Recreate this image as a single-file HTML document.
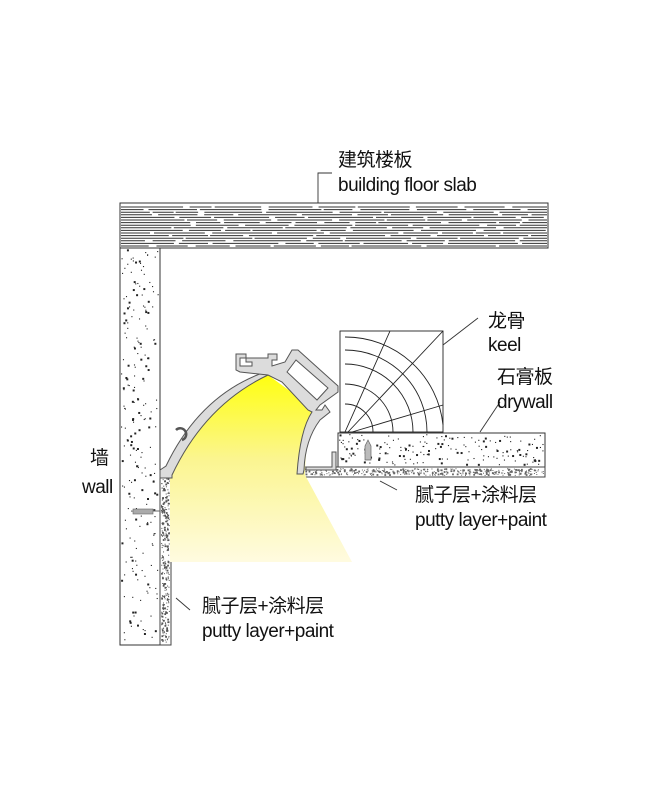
<!DOCTYPE html>
<html><head><meta charset="utf-8"><style>
html,body{margin:0;padding:0;background:#fff;}
svg{display:block}
text{font-family:"Liberation Sans","Noto Sans CJK SC",sans-serif;fill:#111;letter-spacing:-0.5px}
</style></head><body>
<svg id="s" width="650" height="800" viewBox="0 0 650 800" xmlns="http://www.w3.org/2000/svg">
<defs>
<linearGradient id="g" x1="0" y1="0" x2="0" y2="1">
<stop offset="0" stop-color="#ffff10"/><stop offset="0.45" stop-color="#fbf590"/><stop offset="1" stop-color="#fffbe0"/>
</linearGradient>
</defs>
<rect x="120" y="203" width="428" height="45" fill="#fff" stroke="#333" stroke-width="1"/>
<g id="slab" stroke="#333" stroke-width="1"></g>
<rect x="120" y="248" width="40" height="397" fill="#fff" stroke="#333"/>
<g id="wallDots" fill="#222"></g>
<rect x="160" y="477" width="11" height="168" fill="#fff" stroke="#444"/>
<g id="puttyDots" fill="#555"></g>
<rect x="133" y="509" width="20" height="5" fill="#aaa" stroke="#666" stroke-width="0.6"/>
<line x1="153" y1="511" x2="160" y2="511" stroke="#666"/>
<rect x="338" y="433" width="207" height="34" fill="#fff" stroke="#333"/>
<g id="dryDots" fill="#222"></g>
<rect x="303" y="467" width="242" height="10" fill="#fff" stroke="#444"/>
<g id="ceilPutty" fill="#666"></g>
<path d="M365 460 L365 446 L368 440 L371 446 L371 460 Z" fill="#bbb" stroke="#666" stroke-width="0.7"/>
<g stroke="#222" stroke-width="0.9" fill="none">
<rect x="340" y="331" width="103" height="101"/>
<path d="M345 404 A28 28 0 0 1 373 432 M345 384 A48 48 0 0 1 393 432 M345 364 A68 68 0 0 1 413 432 M345 350 A82 82 0 0 1 427 432 M345 337 A98 98 0 0 1 443 425"/>
<line x1="348" y1="432" x2="443" y2="331"/>
<line x1="345" y1="432" x2="390" y2="331"/>
<line x1="352" y1="432" x2="443" y2="405"/>
</g>
<path d="M268 375 Q200 410 170 475 L170 562 L352 562 L305 475 Q305 440 316 410 Z" fill="url(#g)"/>
<g fill="#dcdcdc" stroke="#555" stroke-width="1">
<path d="M160 470 L166 466 Q200 395 265 372 L268 375 Q205 405 172 475 L172 478 L160 478 Z"/>
<path d="M236 354 L246 354 L246 358 L240 358 L240 366 L252 366 L252 362 L246 362 L246 358 L268 358 L268 354 L277 354 L277 360 L272 360 L272 366 L285 362 L292 350 L298 350 L338 386 L338 392 L320 405 L316 410 L322 410 L325 405 L330 412 L320 420 Q305 440 304 470 L303 474 L297 474 Q300 430 312 412 L308 410 L282 382 L268 375 L240 372 L236 370 Z"/>
<path d="M287 372 L296 360 L328 388 L317 400 Z" fill="#fff"/>
<path d="M306 467 L332 467 L332 452 L336 452 L336 470 L306 470 Z"/>
</g>
<g fill="none" stroke="#555" stroke-width="2.5"><path d="M182 440 A6 6 0 1 0 176 430"/></g>
<g stroke="#333" stroke-width="0.9" fill="none">
<polyline points="318,203 318,173 332,173"/>
<line x1="443" y1="345" x2="478" y2="318"/>
<line x1="480" y1="432" x2="500" y2="402"/>
<line x1="380" y1="481" x2="397" y2="490"/>
<line x1="176" y1="598" x2="190" y2="610"/>
</g>
<g font-size="19">
<text x="338" y="166">建筑楼板</text>
<text x="338" y="191">building floor slab</text>
<text x="488" y="327">龙骨</text>
<text x="488" y="351">keel</text>
<text x="497" y="383">石膏板</text>
<text x="497" y="408">drywall</text>
<text x="90" y="464">墙</text>
<text x="82" y="493">wall</text>
<text x="415" y="501">腻子层+涂料层</text>
<text x="415" y="526">putty layer+paint</text>
<text x="202" y="612">腻子层+涂料层</text>
<text x="202" y="637">putty layer+paint</text>
</g>
</svg>
<script>
var ns="http://www.w3.org/2000/svg",seed=7;
function r(){seed=(seed*9301+49297)%233280;return seed/233280;}
function dots(id,x,y,w,h,n,sz){var g=document.getElementById(id);for(var i=0;i<n;i++){var c=document.createElementNS(ns,"rect");var s=r()<0.25?sz*1.8:sz;c.setAttribute("x",x+r()*(w-s));c.setAttribute("y",y+r()*(h-s));c.setAttribute("width",s);c.setAttribute("height",s);g.appendChild(c);}}
dots("wallDots",121,249,38,395,220,1.1);
dots("puttyDots",161,478,9,166,300,1);
dots("dryDots",339,434,205,32,170,1.1);
dots("ceilPutty",304,468,240,8,380,1);
var g=document.getElementById("slab");
for(var y=207;y<246;y+=2.6){var x=121;while(x<547){var l=20+r()*50;var e=Math.min(547,x+l);var ln=document.createElementNS(ns,"line");ln.setAttribute("x1",x);ln.setAttribute("x2",e);ln.setAttribute("y1",y);ln.setAttribute("y2",y);g.appendChild(ln);x=e+2+r()*6;}}
</script>
</body></html>
